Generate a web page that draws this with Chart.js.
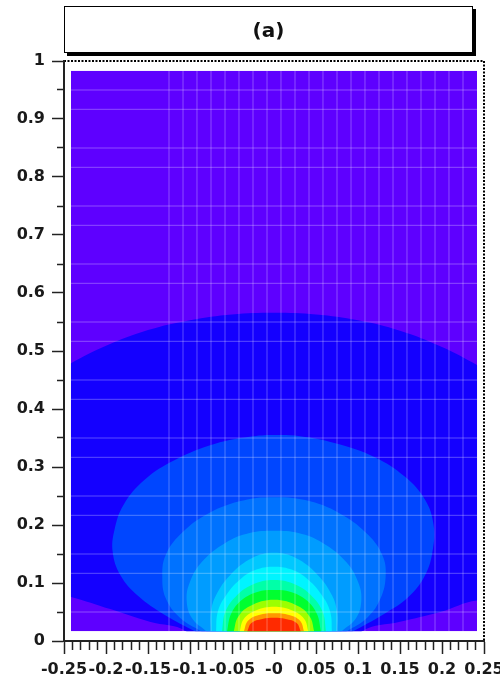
<!DOCTYPE html>
<html>
<head>
<meta charset="utf-8">
<script src="https://cdn.jsdelivr.net/npm/chart.js@4.4.1/dist/chart.umd.min.js"></script>
<style>
  html, body { margin: 0; padding: 0; background: #fff; }
  #wrap { position: relative; width: 500px; height: 678px; }
  #title {
    position: absolute; left: 64px; top: 6px; width: 407px; height: 45px;
    border: 1px solid #000; box-shadow: 3px 3px 0 #000; background: #fff;
    display: flex; align-items: center; justify-content: center;
    font: bold 20px "DejaVu Sans", sans-serif; color: #111;
  }
</style>
</head>
<body>
<div id="wrap">
  <canvas id="chart" width="500" height="678"></canvas>
  <div id="title">(a)</div>
</div>
<script>
// tick labels
const xLabels = ['-0.25', '-0.2', '-0.15', '-0.1', '-0.05', '-0', '0.05', '0.1', '0.15', '0.2', '0.25'];
const yLabels = ['0', '0.1', '0.2', '0.3', '0.4', '0.5', '0.6', '0.7', '0.8', '0.9', '1'];

// drawn range of the histogram (first to last bin centre)
const binX = [-0.2417, 0.2417];
const binY = [0.0167, 0.9833];

// light cell lines
const gridX = [-0.125, -0.1083, -0.0917, -0.075, -0.0583, -0.0417, -0.025, -0.0083, 0.0083, 0.025, 0.0417,
  0.0583, 0.075, 0.0917, 0.1083, 0.125, 0.1417, 0.1583, 0.175, 0.1917, 0.2083, 0.225];
const gridY = [0.05, 0.1167, 0.15, 0.2167, 0.25, 0.3167, 0.35, 0.4167, 0.45, 0.5167, 0.55, 0.6167, 0.65,
  0.7167, 0.75, 0.8167, 0.85, 0.9167, 0.95];

// contour boundaries, outer to inner
const lvl1X = [-0.09, -0.105, -0.148, -0.195, -0.2417, -0.27, -0.27, -0.2417, -0.2, -0.15, -0.1, -0.05, 0,
  0.05, 0.1, 0.15, 0.2, 0.2417, 0.27, 0.27, 0.2417, 0.198, 0.15, 0.105, 0.09];
const lvl1Y = [-0.02, 0.017, 0.033, 0.055, 0.076, 0.085, 0.455, 0.479, 0.509, 0.536, 0.553, 0.563, 0.566,
  0.563, 0.553, 0.535, 0.507, 0.476, 0.452, 0.062, 0.07, 0.05, 0.033, 0.017, -0.02];
const lvl2X = [-0.093, -0.13, -0.162, -0.183, -0.192, -0.19, -0.179, -0.154, -0.118, -0.07, -0.029, 0,
  0.031, 0.073, 0.12, 0.156, 0.18, 0.19, 0.189, 0.18, 0.16, 0.129, 0.093];
const lvl2Y = [0.016, 0.045, 0.078, 0.114, 0.153, 0.191, 0.235, 0.278, 0.312, 0.34, 0.352, 0.355,
  0.353, 0.341, 0.317, 0.283, 0.243, 0.2, 0.157, 0.114, 0.076, 0.045, 0.016];
const lvl3X = [-0.086, -0.112, -0.129, -0.133, -0.129, -0.112, -0.082, -0.041, 0, 0.043, 0.082, 0.112, 0.129, 0.133, 0.127, 0.111, 0.086];
const lvl3Y = [0.016, 0.040, 0.074, 0.114, 0.148, 0.183, 0.217, 0.241, 0.248, 0.241, 0.217, 0.183, 0.148, 0.114, 0.074, 0.040, 0.016];
const lvl4X = [-0.080, -0.098, -0.104, -0.100, -0.086, -0.058, -0.029, 0, 0.029, 0.058, 0.086, 0.100, 0.104, 0.098, 0.080];
const lvl4Y = [0.016, 0.040, 0.071, 0.102, 0.136, 0.169, 0.186, 0.190, 0.186, 0.169, 0.136, 0.102, 0.071, 0.040, 0.016];
const lvl5X = [-0.075, -0.075, -0.069, -0.052, -0.026, 0, 0.026, 0.052, 0.069, 0.075, 0.075];
const lvl5Y = [0.016, 0.050, 0.079, 0.114, 0.143, 0.152, 0.143, 0.114, 0.079, 0.050, 0.016];
const lvl6X = [-0.069, -0.067, -0.057, -0.038, -0.019, 0, 0.019, 0.038, 0.057, 0.067, 0.069];
const lvl6Y = [0.016, 0.050, 0.079, 0.109, 0.124, 0.128, 0.124, 0.109, 0.079, 0.050, 0.016];
const lvl7X = [-0.062, -0.058, -0.046, -0.026, 0, 0.026, 0.046, 0.058, 0.062];
const lvl7Y = [0.016, 0.050, 0.076, 0.097, 0.105, 0.097, 0.076, 0.050, 0.016];
const lvl8X = [-0.056, -0.051, -0.038, -0.019, 0, 0.019, 0.038, 0.051, 0.056];
const lvl8Y = [0.016, 0.047, 0.071, 0.085, 0.088, 0.085, 0.071, 0.047, 0.016];
const lvl9X = [-0.048, -0.043, -0.029, 0, 0.029, 0.043, 0.048];
const lvl9Y = [0.016, 0.041, 0.060, 0.071, 0.060, 0.041, 0.016];
const lvl10X = [-0.041, -0.036, -0.021, 0, 0.021, 0.036, 0.041];
const lvl10Y = [0.016, 0.038, 0.053, 0.059, 0.053, 0.038, 0.016];
const lvl11X = [-0.036, -0.031, -0.018, 0, 0.018, 0.031, 0.036];
const lvl11Y = [0.016, 0.035, 0.045, 0.048, 0.045, 0.035, 0.016];
const lvl12X = [-0.032, -0.027, -0.014, 0, 0.014, 0.027, 0.032];
const lvl12Y = [0.016, 0.031, 0.038, 0.040, 0.038, 0.031, 0.016];

const levelColors = ['#5e00ff', '#1400ff', '#0046ff', '#0072ff', '#009cff', '#00c8ff', '#00f4ff',
  '#00ffa8', '#00ff30', '#9cff00', '#ffff00', '#ff9800', '#ff2a00'];

const contours = [[lvl1X, lvl1Y], [lvl2X, lvl2Y], [lvl3X, lvl3Y], [lvl4X, lvl4Y], [lvl5X, lvl5Y], [lvl6X, lvl6Y],
  [lvl7X, lvl7Y], [lvl8X, lvl8Y], [lvl9X, lvl9Y], [lvl10X, lvl10Y], [lvl11X, lvl11Y], [lvl12X, lvl12Y]];

const xTickValues = Array.from({length: 51}, (_, i) => -0.25 + i * 0.01);
const yTickValues = Array.from({length: 21}, (_, i) => i * 0.05);

const tickFont = {family: 'DejaVu Sans', weight: 'bold', size: 16};

const shape = {
  showLine: true, fill: 'shape', tension: 0.4, pointRadius: 0, pointHoverRadius: 0,
  borderWidth: 0, borderColor: 'rgba(0,0,0,0)', xAxisID: 'x', yAxisID: 'y'
};

const datasets = [];

// whole drawn range = lowest level
datasets.push({
  ...shape, tension: 0, order: 30, backgroundColor: levelColors[0],
  data: [{x: binX[0], y: binY[0]}, {x: binX[0], y: binY[1]}, {x: binX[1], y: binY[1]}, {x: binX[1], y: binY[0]}]
});

contours.forEach(([xs, ys], i) => {
  datasets.push({
    ...shape, order: 20 - i, backgroundColor: levelColors[i + 1],
    data: xs.map((x, j) => ({x, y: ys[j]}))
  });
});

const gridLine = {
  showLine: true, fill: false, tension: 0, pointRadius: 0, pointHoverRadius: 0,
  borderWidth: 1, borderColor: 'rgba(255,255,255,0.3)', xAxisID: 'x', yAxisID: 'y', order: 0
};
datasets.push({...gridLine, data: gridX.flatMap(x => [{x, y: binY[0]}, {x, y: binY[1]}, {x, y: null}])});
datasets.push({...gridLine, data: gridY.flatMap(y => [{x: binX[0], y}, {x: binX[1], y}, {x: 0, y: null}])});

// keep the colour map inside the drawn range
const insetClip = {
  id: 'insetClip',
  beforeDatasetsDraw(chart) {
    const {x, y} = chart.scales;
    const l = x.getPixelForValue(binX[0]), r = x.getPixelForValue(binX[1]);
    const t = y.getPixelForValue(binY[1]), b = y.getPixelForValue(binY[0]);
    chart.ctx.save();
    chart.ctx.beginPath();
    chart.ctx.rect(l, t, r - l, b - t);
    chart.ctx.clip();
  },
  afterDatasetsDraw(chart) {
    chart.ctx.restore();
  }
};

const frameLine = {color: '#000', lineWidth: 2, drawTicks: false};

new Chart(document.getElementById('chart'), {
  type: 'line',
  data: {datasets},
  plugins: [insetClip],
  options: {
    responsive: false,
    animation: false,
    events: [],
    layout: {padding: {left: 0, right: 16, top: 61, bottom: 0}},
    elements: {line: {capBezierPoints: false}},
    plugins: {legend: {display: false}, tooltip: {enabled: false}},
    scales: {
      x: {
        type: 'linear', position: 'bottom', min: -0.25, max: 0.25,
        afterBuildTicks: s => { s.ticks = xTickValues.map(v => ({value: v})); },
        afterFit: s => { s.height = 37; s.paddingLeft = 0; s.paddingRight = 0; },
        ticks: {
          autoSkip: false, maxRotation: 0, minRotation: 0, padding: 6, color: '#1a1a1a', font: tickFont,
          callback: (v, i) => (i % 5 === 0 ? xLabels[i / 5] : '')
        },
        grid: {
          drawOnChartArea: false, tickLength: 13, tickColor: '#222', tickWidth: 1.5,
          tickBorderDash: c => (c.index % 5 === 0 ? [] : [8, 100])
        },
        border: {display: true, color: '#222', width: 2}
      },
      y: {
        type: 'linear', position: 'left', min: 0, max: 1,
        afterBuildTicks: s => { s.ticks = yTickValues.map(v => ({value: v})); },
        afterFit: s => { s.width = 64; },
        ticks: {
          autoSkip: false, padding: 7, color: '#1a1a1a', font: tickFont,
          callback: (v, i) => (i % 2 === 0 ? yLabels[i / 2] : '')
        },
        grid: {
          drawOnChartArea: false, tickLength: 12, tickColor: '#222', tickWidth: 1.5,
          tickBorderDash: c => (c.index % 2 === 0 ? [] : [0, 5, 6, 100])
        },
        border: {display: true, color: '#222', width: 2}
      },
      // dotted frame on the right and top
      xf: {
        type: 'linear', position: 'top', min: -0.25, max: 0.25,
        afterBuildTicks: s => { s.ticks = [{value: 0.25}]; },
        ticks: {display: false}, grid: frameLine, border: {display: false, dash: [2, 1.5]}
      },
      yf: {
        type: 'linear', position: 'right', min: 0, max: 1,
        afterBuildTicks: s => { s.ticks = [{value: 1}]; },
        ticks: {display: false}, grid: frameLine, border: {display: false, dash: [2, 1.5]}
      }
    }
  }
});
</script>
</body>
</html>
